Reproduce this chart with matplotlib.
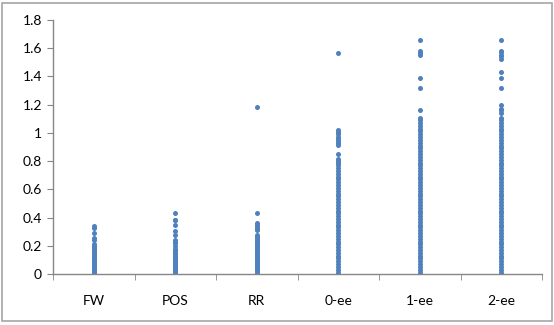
import matplotlib.pyplot as plt
from matplotlib.patches import Rectangle

# Categorias y valores
categorias = ['FW', 'POS', 'RR', '0-ee', '1-ee', '2-ee']

fw = [0.342, 0.324, 0.293, 0.253, 0.24, 0.21, 0.20, 0.19, 0.18, 0.17, 0.16,
      0.15, 0.14, 0.13, 0.12, 0.11, 0.10, 0.09, 0.08, 0.07, 0.06, 0.05, 0.04,
      0.03, 0.02, 0.01, 0.005, 0.0]

pos = [0.43, 0.385, 0.38, 0.347, 0.305, 0.276, 0.24, 0.23, 0.22, 0.20, 0.18,
       0.17, 0.16, 0.15, 0.14, 0.13, 0.12, 0.11, 0.10, 0.09, 0.08, 0.07, 0.06,
       0.05, 0.04, 0.03, 0.02, 0.01, 0.0]

rr = [1.186, 0.43, 0.364, 0.35, 0.335, 0.32, 0.312, 0.276, 0.26, 0.25, 0.24,
      0.23, 0.22, 0.21, 0.20, 0.19, 0.18, 0.17, 0.16, 0.15, 0.14, 0.13, 0.12,
      0.11, 0.10, 0.09, 0.08, 0.07, 0.06, 0.05, 0.04, 0.03, 0.02, 0.01, 0.0]

ee0 = [1.564, 1.02, 1.005, 0.99, 0.97, 0.955, 0.94, 0.925, 0.914, 0.848,
       0.815, 0.80, 0.785, 0.77, 0.75, 0.73, 0.71, 0.69, 0.67, 0.65, 0.63,
       0.61, 0.59, 0.57, 0.55, 0.53, 0.51, 0.49, 0.47, 0.45, 0.43, 0.41, 0.39,
       0.37, 0.35, 0.33, 0.31, 0.29, 0.27, 0.25, 0.23, 0.21, 0.19, 0.17, 0.15,
       0.13, 0.11, 0.09, 0.07, 0.05, 0.03, 0.01, 0.0]

ee1 = [1.66, 1.58, 1.565, 1.55, 1.39, 1.316, 1.16, 1.105, 1.09, 1.07, 1.05,
       1.03, 1.01, 0.99, 0.97, 0.95, 0.93, 0.91, 0.89, 0.87, 0.85, 0.83, 0.81,
       0.79, 0.77, 0.75, 0.73, 0.71, 0.69, 0.67, 0.65, 0.63, 0.61, 0.59, 0.57,
       0.55, 0.53, 0.51, 0.49, 0.47, 0.45, 0.43, 0.41, 0.39, 0.37, 0.35, 0.33,
       0.31, 0.29, 0.27, 0.25, 0.23, 0.21, 0.19, 0.17, 0.15, 0.13, 0.11, 0.09,
       0.07, 0.05, 0.03, 0.01, 0.0]

ee2 = [1.66, 1.58, 1.57, 1.555, 1.545, 1.525, 1.43, 1.39, 1.316, 1.195, 1.17,
       1.16, 1.14, 1.105, 1.09, 1.07, 1.05, 1.03, 1.01, 0.99, 0.97, 0.95, 0.93,
       0.91, 0.89, 0.87, 0.85, 0.83, 0.81, 0.79, 0.77, 0.75, 0.73, 0.71, 0.69,
       0.67, 0.65, 0.63, 0.61, 0.59, 0.57, 0.55, 0.53, 0.51, 0.49, 0.47, 0.45,
       0.43, 0.41, 0.39, 0.37, 0.35, 0.33, 0.31, 0.29, 0.27, 0.25, 0.23, 0.21,
       0.19, 0.17, 0.15, 0.13, 0.11, 0.09, 0.07, 0.05, 0.03, 0.01, 0.0]

series = [fw, pos, rr, ee0, ee1, ee2]
yticks = [0, 0.2, 0.4, 0.6, 0.8, 1, 1.2, 1.4, 1.6, 1.8]
ylabels = ['0', '0.2', '0.4', '0.6', '0.8', '1', '1.2', '1.4', '1.6', '1.8']

plt.rcParams['font.family'] = ['Lato', 'DejaVu Sans']

fig = plt.figure(figsize=(5.54, 3.25), dpi=100)
ax = fig.add_axes([53 / 554, 1 - 274 / 325, 489 / 554, 254 / 325])

azul = '#4F81BD'
for i, vals in enumerate(series):
    ax.plot([i + 1] * len(vals), vals, linestyle='none', marker='o',
            markersize=3.6, color=azul, markeredgewidth=0)

ax.set_xlim(0.5, 6.5)
ax.set_ylim(0, 1.8)
ax.set_yticks(yticks)
ax.set_yticklabels(ylabels, fontsize=10)
ax.set_xticks(range(1, 7))
ax.set_xticklabels(categorias, fontsize=10)
ax.set_xticks([0.5 + k for k in range(7)], minor=True)
ax.tick_params(axis='x', which='major', length=0, pad=15)
ax.tick_params(axis='x', which='minor', length=4, color='#868686', direction='out')
ax.tick_params(axis='y', length=4, color='#868686', pad=4)

for s in ['top', 'right']:
    ax.spines[s].set_visible(False)
for s in ['left', 'bottom']:
    ax.spines[s].set_color('#868686')
    ax.spines[s].set_linewidth(1.0)

# borde del area del grafico
fig.patches.append(Rectangle((2 / 554, 4 / 325), 550 / 554, 318 / 325,
                             transform=fig.transFigure, fill=False,
                             edgecolor='#A6A6A6', linewidth=1.2))

fig.savefig('out.png', dpi=100)
